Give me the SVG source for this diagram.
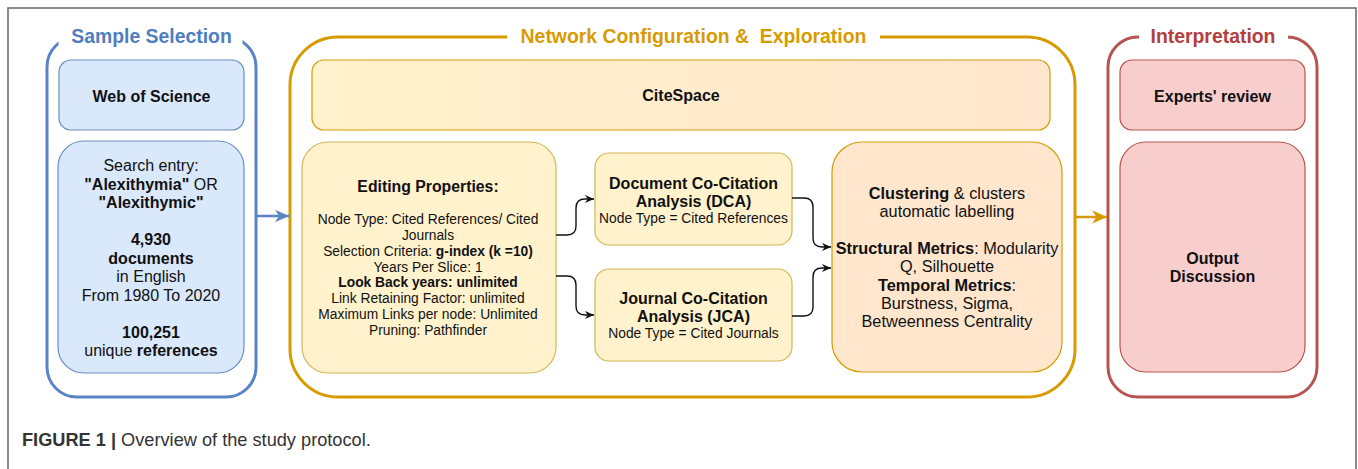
<svg xmlns="http://www.w3.org/2000/svg" width="1358" height="469" viewBox="0 0 1358 469">
<style>
text{font-family:"Liberation Sans",Arial,Helvetica,sans-serif;fill:#111}
.b{font-weight:bold}
.c{text-anchor:middle}
.title{font-size:19.4px;font-weight:bold;text-anchor:middle}
.cont{fill:none;stroke-width:3}
.blue{fill:#dae8fc;stroke:#6c8ebf;stroke-width:1.2}
.yel{fill:#fff2cc;stroke:#d6b656;stroke-width:1.2}
.org{fill:#ffe6cc;stroke:#d79b00;stroke-width:1.2}
.red{fill:#f8cecc;stroke:#b85450;stroke-width:1.2}
.edge{fill:none;stroke:#111;stroke-width:1.4}
.f16{font-size:16px}
.f14{font-size:13.8px}
.f165{font-size:16.3px}
.mask{fill:#fff;stroke:none}
</style>
<defs>
<linearGradient id="gCite" x1="0" y1="0" x2="1" y2="0">
<stop offset="0" stop-color="#fff2cc"/>
<stop offset="1" stop-color="#ffe6cc"/>
</linearGradient>
<marker id="aBlack" markerUnits="userSpaceOnUse" viewBox="0 0 10 10" refX="10" refY="5" markerWidth="9" markerHeight="9" orient="auto">
<path d="M0,0.5 L10,5 L0,9.5 L3,5 z" fill="#111"/>
</marker>
<marker id="aBlue" markerUnits="userSpaceOnUse" viewBox="0 0 10 10" refX="10" refY="5" markerWidth="14" markerHeight="14" orient="auto">
<path d="M0,0.5 L10,5 L0,9.5 L3,5 z" fill="#5b84c4"/>
</marker>
<marker id="aOrange" markerUnits="userSpaceOnUse" viewBox="0 0 10 10" refX="10" refY="5" markerWidth="15" markerHeight="15" orient="auto">
<path d="M0,0.5 L10,5 L0,9.5 L3,5 z" fill="#d79b00"/>
</marker>
</defs>

<rect x="0" y="0" width="1358" height="469" fill="#fff"/>
<path id="frame" d="M8,469 V8 H1356 V469" fill="none" stroke="#666" stroke-width="1.5"/>

<g id="sample-selection">
<rect class="cont" x="47" y="37" width="209" height="360" rx="30" stroke="#5b84c4"/>
<rect class="mask" x="58.5" y="28" width="184" height="17"/>
<text class="title" x="151.5" y="43" style="fill:#4f7ec0">Sample Selection</text>
</g>

<g id="network-configuration">
<rect class="cont" x="290" y="37" width="785" height="360" rx="48" stroke="#d79b00"/>
<rect class="mask" x="507" y="28" width="373" height="17"/>
<text class="title" x="693.5" y="43" xml:space="preserve" style="fill:#d79b00">Network Configuration &amp;  Exploration</text>
</g>

<g id="interpretation">
<rect class="cont" x="1108" y="37" width="209" height="360" rx="30" stroke="#b85450"/>
<rect class="mask" x="1139" y="28" width="149" height="17"/>
<text class="title" x="1213" y="43" style="fill:#b3403c">Interpretation</text>
</g>

<g id="web-of-science">
<rect class="blue" x="59" y="60" width="185" height="70" rx="12"/>
<text class="b c f16" x="151.5" y="101.5">Web of Science</text>
</g>

<g id="search-entry">
<rect class="blue" x="58" y="141" width="186" height="232" rx="26"/>
<text class="c f16" x="151" y="171">Search entry:</text>
<text class="c f16" x="151" y="189.5"><tspan class="b">"Alexithymia"</tspan> OR</text>
<text class="c f16 b" x="151" y="208">"Alexithymic"</text>
<text class="c f16 b" x="151" y="245">4,930</text>
<text class="c f16 b" x="151" y="263.5">documents</text>
<text class="c f16" x="151" y="282">in English</text>
<text class="c f16" x="151" y="300.5">From 1980 To 2020</text>
<text class="c f16 b" x="151" y="337.5">100,251</text>
<text class="c f16" x="151" y="356">unique <tspan class="b">references</tspan></text>
</g>

<g id="citespace">
<rect x="312" y="60" width="738" height="70" rx="12" fill="url(#gCite)" stroke="#d79b00" stroke-width="1.2"/>
<text class="b c f16" x="681" y="101">CiteSpace</text>
</g>

<g id="editing-properties">
<rect class="yel" x="302" y="142" width="254" height="231" rx="26"/>
<text class="b c" x="428" y="192" style="font-size:15.8px">Editing Properties:</text>
<text class="c f14" x="428" y="224.3">Node Type: Cited References/ Cited</text>
<text class="c f14" x="428" y="240">Journals</text>
<text class="c f14" x="428" y="255.8">Selection Criteria: <tspan class="b">g-index (k =10)</tspan></text>
<text class="c f14" x="428" y="271.6">Years Per Slice: 1</text>
<text class="c f14 b" x="428" y="287.4">Look Back years: unlimited</text>
<text class="c f14" x="428" y="303.2">Link Retaining Factor: unlimited</text>
<text class="c f14" x="428" y="319">Maximum Links per node: Unlimited</text>
<text class="c f14" x="428" y="334.8">Pruning: Pathfinder</text>
</g>

<g id="dca">
<rect class="yel" x="595" y="153" width="197" height="92" rx="14"/>
<text class="b c f16" x="693.5" y="188.5">Document Co-Citation</text>
<text class="b c f16" x="693.5" y="206.5">Analysis (DCA)</text>
<text class="c f14" x="693.5" y="222.5">Node Type = Cited References</text>
</g>

<g id="jca">
<rect class="yel" x="595" y="269" width="197" height="92" rx="14"/>
<text class="b c f16" x="693.5" y="304">Journal Co-Citation</text>
<text class="b c f16" x="693.5" y="322">Analysis (JCA)</text>
<text class="c f14" x="693.5" y="338">Node Type = Cited Journals</text>
</g>

<g id="clustering">
<rect class="org" x="832" y="142" width="230" height="230" rx="30"/>
<text class="c f165" x="947" y="199"><tspan class="b">Clustering</tspan> &amp; clusters</text>
<text class="c f165" x="947" y="217.3">automatic labelling</text>
<text class="c f165" x="947" y="254"><tspan class="b">Structural Metrics</tspan>: Modularity</text>
<text class="c f165" x="947" y="272.3">Q, Silhouette</text>
<text class="c f165" x="947" y="290.6"><tspan class="b">Temporal Metrics</tspan>:</text>
<text class="c f165" x="947" y="309">Burstness, Sigma,</text>
<text class="c f165" x="947" y="327.3">Betweenness Centrality</text>
</g>

<g id="experts-review">
<rect class="red" x="1120" y="60" width="185" height="70" rx="12"/>
<text class="b c f16" x="1212.5" y="102">Experts' review</text>
</g>

<g id="output-discussion">
<rect class="red" x="1120" y="142" width="185" height="230" rx="26"/>
<text class="b c f16" x="1212.5" y="263.5">Output</text>
<text class="b c f16" x="1212.5" y="282">Discussion</text>
</g>

<g id="connectors">
<path class="edge" d="M556,235 H567 Q576,235 576,226 V208 Q576,199 585,199 H594" marker-end="url(#aBlack)"/>
<path class="edge" d="M556,276 H567 Q576,276 576,285 V306 Q576,315 585,315 H594" marker-end="url(#aBlack)"/>
<path class="edge" d="M792,198 H804 Q813,198 813,207 V238 Q813,247 822,247 H831" marker-end="url(#aBlack)"/>
<path class="edge" d="M792,316 H804 Q813,316 813,307 V277 Q813,268 822,268 H831" marker-end="url(#aBlack)"/>
<path d="M256,216 H289" fill="none" stroke="#5b84c4" stroke-width="2.5" marker-end="url(#aBlue)"/>
<path d="M1075,217 H1107" fill="none" stroke="#d79b00" stroke-width="2.5" marker-end="url(#aOrange)"/>
</g>

<text x="22" y="446" style="font-size:18.2px;fill:#333"><tspan class="b">FIGURE 1 |</tspan> Overview of the study protocol.</text>
</svg>
